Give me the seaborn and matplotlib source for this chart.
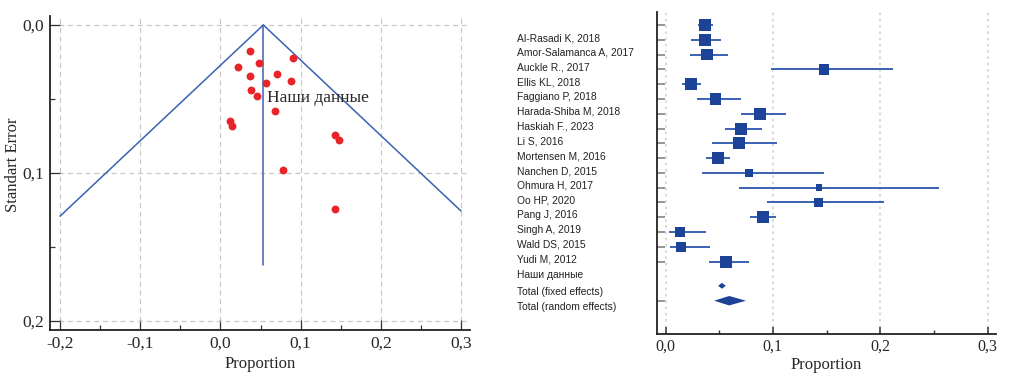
import matplotlib
matplotlib.use("Agg")
import matplotlib.pyplot as plt
import matplotlib.transforms as mtransforms
from matplotlib.ticker import FuncFormatter, MultipleLocator
import seaborn as sns
import pandas as pd

# --- funnel plot data ---
funnel_prop = [0.0369, 0.0900, 0.0481, 0.0219, 0.0710, 0.0369, 0.0884, 0.0568, 0.0386,
               0.0461, 0.0680, 0.0120, 0.0140, 0.1423, 0.1473, 0.0785, 0.1423]
funnel_se = [0.0174, 0.0221, 0.0259, 0.0286, 0.0329, 0.0347, 0.0377, 0.0390, 0.0442,
             0.0480, 0.0584, 0.0652, 0.0683, 0.0746, 0.0778, 0.0983, 0.1247]
pooled = 0.0535
funnel_left = [-0.2, 0.1293]
funnel_right = [0.3, 0.1258]
vline_end = 0.162
our_label = "Наши данные"
our_point = [0.0585, 0.0496]

# --- forest plot data ---
studies = ["Al-Rasadi K, 2018", "Amor-Salamanca A, 2017", "Auckle R., 2017", "Ellis KL, 2018",
           "Faggiano P, 2018", "Harada-Shiba M, 2018", "Haskiah F., 2023", "Li S, 2016",
           "Mortensen M, 2016", "Nanchen D, 2015", "Ohmura H, 2017", "Oo HP, 2020",
           "Pang J, 2016", "Singh A, 2019", "Wald DS, 2015", "Yudi M, 2012", "Наши данные"]
est = [0.0366, 0.0366, 0.0385, 0.1478, 0.0233, 0.0466, 0.0882, 0.0702, 0.0683,
       0.0485, 0.0779, 0.1429, 0.1426, 0.0904, 0.0133, 0.0143, 0.0565]
lo = [0.0304, 0.0242, 0.0226, 0.0981, 0.0149, 0.0289, 0.0699, 0.0553, 0.0429,
      0.0376, 0.0338, 0.0683, 0.0947, 0.0786, 0.0028, 0.0040, 0.0407]
hi = [0.0444, 0.0515, 0.0584, 0.2121, 0.0326, 0.0702, 0.1118, 0.0895, 0.1037,
      0.0599, 0.1473, 0.2544, 0.2035, 0.1028, 0.0376, 0.0413, 0.0774]
weights = [6.4, 6.4, 6.4, 5.1, 6.7, 6.4, 6.7, 6.7, 6.7, 6.7, 3.2, 2.1, 4.0, 6.7, 4.7, 4.7, 6.7]
total_labels = ["Total (fixed effects)", "Total (random effects)"]
total_est = [0.0526, 0.0593]
total_lo = [0.0490, 0.0453]
total_hi = [0.0562, 0.0749]

RED = "#e8232a"
BLUE = "#1d4399"
LINE = "#3a62b2"

sns.set_style("white")
plt.rcParams["font.family"] = ["Liberation Serif", "DejaVu Serif"]

fig = plt.figure(figsize=(10.29, 3.82), dpi=100)
comma = FuncFormatter(lambda v, p: f"{v:.1f}".replace(".", ","))

# ---------------- funnel ----------------
ax1 = fig.add_axes([0.0486, 0.136, 0.408, 0.823])
df1 = pd.DataFrame({"prop": funnel_prop, "se": funnel_se})
ax1.plot([funnel_left[0], pooled, funnel_right[0]], [funnel_left[1], 0, funnel_right[1]],
         color=LINE, lw=1.1, zorder=2)
ax1.plot([pooled, pooled], [0, vline_end], color=LINE, lw=1.1, zorder=2)
sns.scatterplot(data=df1, x="prop", y="se", color=RED, s=32, linewidth=0, ax=ax1, zorder=3)
ax1.text(our_point[0], our_point[1], our_label, fontsize=12.5, va="center", ha="left")
ax1.set_xlim(-0.2125, 0.311)
ax1.set_ylim(0.2063, -0.0063)
ax1.xaxis.set_major_locator(MultipleLocator(0.1))
ax1.xaxis.set_minor_locator(MultipleLocator(0.05))
ax1.yaxis.set_major_locator(MultipleLocator(0.1))
ax1.yaxis.set_minor_locator(MultipleLocator(0.05))
ax1.xaxis.set_major_formatter(comma)
ax1.yaxis.set_major_formatter(comma)
ax1.grid(True, which="major", ls=(0, (4, 3)), color="#c8c8c8", lw=0.9)
ax1.tick_params(which="both", bottom=True, left=True)
ax1.tick_params(which="major", direction="in", length=7, width=0.9, color="#333333",
                labelsize=12.5, pad=4)
ax1.tick_params(which="minor", direction="in", length=3.5, width=0.9, color="#333333")
for s in ["top", "right"]:
    ax1.spines[s].set_visible(False)
for s in ["left", "bottom"]:
    ax1.spines[s].set_color("#222222")
    ax1.spines[s].set_linewidth(1.3)
ax1.set_xlabel("Proportion", fontsize=12, labelpad=3)
ax1.set_ylabel("Standart Error", fontsize=12)
ax1.yaxis.set_label_coords(-0.068, 0.525)

# ---------------- forest ----------------
ax2 = fig.add_axes([0.638, 0.1257, 0.3295, 0.842])
rows = list(range(len(studies)))
df2 = pd.DataFrame({"est": est, "row": rows, "w": weights})
ax2.hlines(rows, lo, hi, color=LINE, lw=1.4, zorder=2)
sns.scatterplot(data=df2, x="est", y="row", size="w", sizes=(0, 75), size_norm=(0, 6.7),
                marker="s", color=BLUE, linewidth=0, legend=False, ax=ax2, zorder=3)
total_rows = [len(studies) + 0.64, len(studies) + 1.65]
diamond_h = [0.2, 0.32]
for r, l, c, h, dh in zip(total_rows, total_lo, total_est, total_hi, diamond_h):
    ax2.fill([l, c, h, c], [r, r - dh, r, r + dh], color=BLUE, lw=0, zorder=3)

trans = mtransforms.blended_transform_factory(ax2.transAxes, ax2.transData)
for r, name in zip(rows, studies):
    ax2.text(-0.411, r + 0.88, name, transform=trans, fontsize=7.4, va="center", ha="left",
             family=["Liberation Sans", "DejaVu Sans"], color="#222222")
for r, name in zip(total_rows, total_labels):
    ax2.text(-0.411, r + 0.45, name, transform=trans, fontsize=7.4, va="center", ha="left",
             family=["Liberation Sans", "DejaVu Sans"], color="#222222")

ax2.set_xlim(-0.0084, 0.3075)
ax2.set_ylim(20.9, -0.86)
ax2.set_yticks(rows + [total_rows[1]])
ax2.set_yticklabels([])
ax2.xaxis.set_major_locator(MultipleLocator(0.1))
ax2.xaxis.set_minor_locator(MultipleLocator(0.05))
ax2.xaxis.set_major_formatter(comma)
ax2.grid(True, axis="x", which="major", ls=(0, (1.2, 1.8)), color="#d9d9d9", lw=1.5)
ax2.tick_params(which="both", bottom=True, left=True)
ax2.tick_params(axis="y", direction="in", length=6, width=1.1, color="#777777")
ax2.tick_params(axis="x", which="major", direction="in", length=5, width=1.1, color="#333333",
                labelsize=11.5, pad=3)
ax2.tick_params(axis="x", which="minor", direction="in", length=3, width=1.0, color="#333333")
for s in ["top", "right"]:
    ax2.spines[s].set_visible(False)
for s in ["left", "bottom"]:
    ax2.spines[s].set_color("#222222")
    ax2.spines[s].set_linewidth(1.3)
ax2.set_xlabel("Proportion", fontsize=12, labelpad=2)
ax2.set_ylabel("")

fig.savefig("out.png", dpi=100)
